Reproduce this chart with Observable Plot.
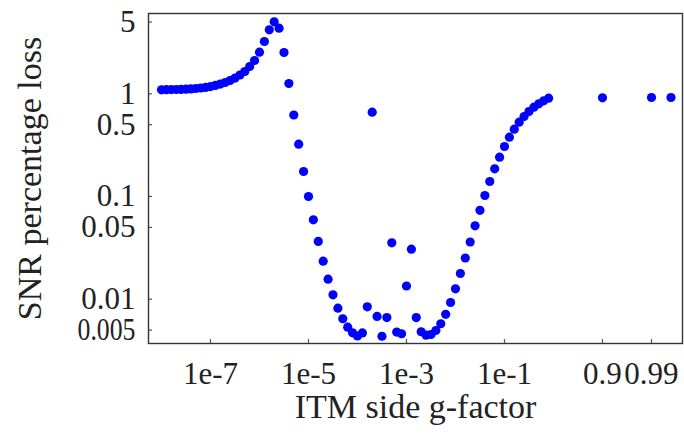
<!DOCTYPE html>
<html>
<head>
<meta charset="utf-8">
<script src="https://cdn.jsdelivr.net/npm/d3@7"></script>
<script src="https://cdn.jsdelivr.net/npm/@observablehq/plot@0.6"></script>
<style>
  html, body { margin: 0; padding: 0; background: #fff; }
  #chart { width: 684px; height: 434px; }
</style>
</head>
<body>
<div id="chart"></div>
<script>
// Main sweep: exponent of the ITM side g-factor (log10 g)
const gExp = [
  -8.0,-7.9,-7.8,-7.7,-7.6,-7.5,-7.4,-7.3,-7.2,-7.1,
  -7.0,-6.9,-6.8,-6.7,-6.6,-6.5,-6.4,-6.3,-6.2,-6.1,
  -6.0,-5.9,-5.8,-5.7,-5.6,-5.5,-5.4,-5.3,-5.2,-5.1,
  -5.0,-4.9,-4.8,-4.7,-4.6,-4.5,-4.4,-4.3,-4.2,-4.1,
  -4.0,-3.9,-3.8,-3.7,-3.6,-3.5,-3.4,-3.3,-3.2,-3.1,
  -3.0,-2.9,-2.8,-2.7,-2.6,-2.5,-2.4,-2.3,-2.2,-2.1,
  -2.0,-1.9,-1.8,-1.7,-1.6,-1.5,-1.4,-1.3,-1.2,-1.1,
  -1.0,-0.9,-0.8,-0.7,-0.6,-0.5,-0.4,-0.3,-0.2,-0.1
];
// SNR percentage loss for the main sweep
const lossMain = [
  1.094,1.096,1.099,1.101,1.104,1.109,1.116,1.126,1.139,1.154,
  1.175,1.205,1.243,1.288,1.347,1.422,1.524,1.649,1.844,2.110,
  2.541,3.231,4.200,5.024,4.354,2.524,1.260,0.6216,0.3230,0.1751,
  0.1000,0.0593,0.0365,0.02344,0.01566,0.01103,0.00817,0.00645,0.00534,0.00471,
  0.00438,0.00469,0.00843,0.662,0.00679,0.00436,0.00663,0.0354,0.00479,0.00461,
  0.01344,0.0307,0.00663,0.00482,0.00446,0.00453,0.00496,0.00577,0.00713,0.00929,
  0.01263,0.01779,0.02518,0.03606,0.05185,0.0734,0.1023,0.1400,0.1861,0.2414,
  0.3068,0.3778,0.4520,0.5290,0.6012,0.6724,0.7404,0.7991,0.8546,0.9061
];
// High g-factor points
const gHigh = [0.9, 0.99, 0.996];
const lossHigh = [0.914, 0.920, 0.920];

// Tick values and labels
const xTickG = [1e-7, 1e-5, 1e-3, 1e-1, 0.9, 0.99];
const xTickLabels = ["1e-7", "1e-5", "1e-3", "1e-1", "0.9", "0.99"];
const yTicks = [5, 1, 0.5, 0.1, 0.05, 0.01, 0.005];
const yTickLabels = ["5", "1", "0.5", "0.1", "0.05", "0.01", "0.005"];

const xTitle = "ITM side g-factor";
const yTitle = "SNR percentage loss";

// axis position: log10(g) for small g, -log10(1-g) near 1
const pos = g => g < 0.85 ? Math.log10(g) : -Math.log10(1 - g);

const points = [
  ...gExp.map((e, i) => ({x: e, y: lossMain[i]})),
  ...gHigh.map((g, i) => ({x: pos(g), y: lossHigh[i]}))
];
const xTickPos = xTickG.map(pos);
const xLabelFor = d => {
  const i = xTickPos.findIndex(p => Math.abs(p - d) < 1e-6);
  return i >= 0 ? xTickLabels[i] : "";
};
const yLabelFor = d => {
  const i = yTicks.findIndex(v => Math.abs(v - d) < 1e-12);
  return i >= 0 ? yTickLabels[i] : "";
};

const chart = Plot.plot({
  width: 684,
  height: 434,
  marginLeft: 148,
  marginRight: 2,
  marginTop: 13,
  marginBottom: 91,
  style: {fontFamily: "'Liberation Serif', 'Times New Roman', serif", fontSize: "31px", color: "#222", background: "#fff"},
  x: {type: "linear", domain: [-8.265, 2.633]},
  y: {type: "log", domain: [0.003704, 6.05]},
  marks: [
    Plot.dot(points, {x: "x", y: "y", r: 4.6, fill: "#0000ff", stroke: "none"}),
    Plot.tickX(xTickPos, {x: d => d, stroke: "#555", strokeWidth: 1.2, insetTop: 326}),
    Plot.tickY(yTicks, {y: d => d, stroke: "#555", strokeWidth: 1.2, insetRight: 530}),
    Plot.frame({stroke: "#333", strokeWidth: 1.4}),
    Plot.axisX(xTickPos, {tickSize: 0, tickPadding: 18, text: xLabelFor, fontSize: 31, label: null}),
    Plot.axisY(yTicks, {tickSize: 0, tickPadding: 13, text: yLabelFor, fontSize: 31, label: null}),
    Plot.text([yTitle], {text: d => d, frameAnchor: "left", textAnchor: "middle", dx: -118, rotate: -90, fontSize: 34, fill: "#222"}),
    Plot.text([xTitle], {text: d => d, frameAnchor: "bottom", textAnchor: "middle", dy: 74, fontSize: 34, fill: "#222"})
  ]
});

chart.querySelectorAll("text").forEach(t => {
  if (t.textContent === "0.005") {
    t.setAttribute("textLength", "58");
    t.setAttribute("lengthAdjust", "spacingAndGlyphs");
  }
});

document.getElementById("chart").appendChild(chart);
</script>
</body>
</html>
